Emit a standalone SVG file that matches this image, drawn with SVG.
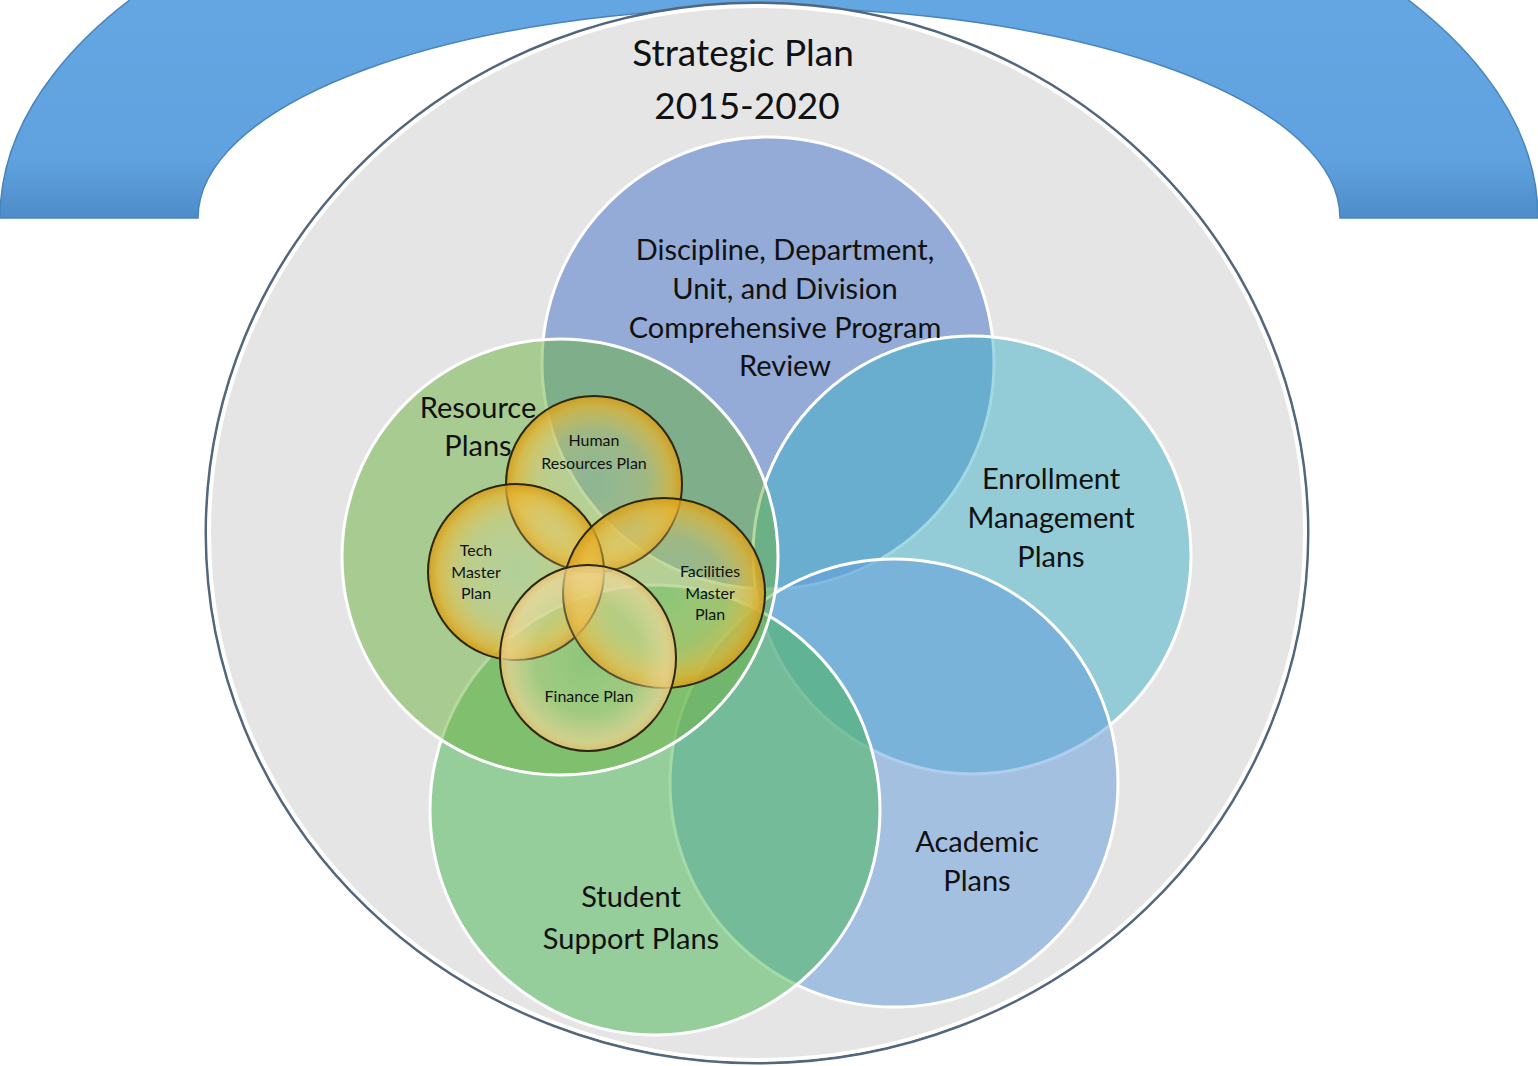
<svg xmlns="http://www.w3.org/2000/svg" width="1538" height="1066" viewBox="0 0 1538 1066">
<defs>
<linearGradient id="arcGrad" x1="0" y1="0" x2="0" y2="1">
<stop offset="0" stop-color="#6aabe6"/>
<stop offset="0.85" stop-color="#5fa2df"/>
<stop offset="1" stop-color="#4d8cc8"/>
</linearGradient>
<radialGradient id="gold" cx="0.5" cy="0.5" r="0.5">
<stop offset="0" stop-color="#fff4cc" stop-opacity="0.1"/>
<stop offset="0.6" stop-color="#f2cf6a" stop-opacity="0.28"/>
<stop offset="0.88" stop-color="#e8b530" stop-opacity="0.7"/>
<stop offset="1" stop-color="#d49c18" stop-opacity="0.9"/>
</radialGradient>
<radialGradient id="cream" cx="0.5" cy="0.5" r="0.5">
<stop offset="0" stop-color="#fff8e0" stop-opacity="0.1"/>
<stop offset="0.6" stop-color="#f5e4b0" stop-opacity="0.28"/>
<stop offset="0.9" stop-color="#efd89a" stop-opacity="0.7"/>
<stop offset="1" stop-color="#e2c070" stop-opacity="0.9"/>
</radialGradient>
<style>
.big{stroke:#ffffff;stroke-width:3;fill-opacity:0.5}
.gc{stroke:#2b2710;stroke-width:2}
.t{font-family:Lato,"Open Sans","Liberation Sans",sans-serif;fill:#111111;text-anchor:middle}
.l{font-size:29px}
.s{font-size:16px}
</style>
</defs>
<rect width="1538" height="1066" fill="#ffffff"/>
<g id="arc">
<path d="M0,218 A769,392 0 0 1 1538,218 L1340,218 A571,210 0 0 0 198,218 Z" fill="url(#arcGrad)" stroke="#4a84bd" stroke-width="1.5"/>
</g>
<g id="strategic-plan">
<ellipse cx="757" cy="533" rx="551" ry="530" fill="none" stroke="#52667c" stroke-width="3"/>
<ellipse cx="757" cy="533" rx="548" ry="527" fill="#e5e5e5" stroke="#ffffff" stroke-width="4"/>
<text class="t" x="743" y="66" font-size="37">Strategic Plan</text>
<text class="t" x="747" y="119" font-size="37">2015-2020</text>
</g>
<g id="discipline">
<circle class="big" cx="768" cy="363" r="226" fill="#4171c7"/>
</g>
<g id="enrollment">
<circle class="big" cx="972" cy="555" r="219" fill="#41b1c7"/>
</g>
<g id="academic">
<circle class="big" cx="894" cy="783" r="224" fill="#619bdb"/>
</g>
<g id="student">
<circle class="big" cx="655" cy="810" r="225" fill="#45b551"/>
</g>
<g id="resource">
<circle class="big" cx="560" cy="557" r="218" fill="#6bb13f"/>
</g>
<g id="labels">
<text class="t l" x="785" y="260">Discipline,  Department,</text>
<text class="t l" x="785" y="299">Unit, and Division</text>
<text class="t l" x="785" y="338">Comprehensive  Program</text>
<text class="t l" x="785" y="376">Review</text>
<text class="t l" x="1051" y="489">Enrollment</text>
<text class="t l" x="1051" y="528">Management</text>
<text class="t l" x="1051" y="567">Plans</text>
<text class="t l" x="977" y="852">Academic</text>
<text class="t l" x="977" y="891">Plans</text>
<text class="t l" x="631" y="907">Student</text>
<text class="t l" x="631" y="949">Support Plans</text>
<text class="t l" x="478" y="418">Resource</text>
<text class="t l" x="478" y="456">Plans</text>
</g>
<g id="human-resources">
<circle class="gc" cx="594" cy="484" r="88" fill="url(#gold)"/>
<text class="t s" x="594" y="446">Human</text>
<text class="t s" x="594" y="469">Resources Plan</text>
</g>
<g id="tech">
<circle class="gc" cx="516" cy="572" r="88" fill="url(#gold)"/>
<text class="t s" x="476" y="556">Tech</text>
<text class="t s" x="476" y="578">Master</text>
<text class="t s" x="476" y="599">Plan</text>
</g>
<g id="facilities">
<ellipse class="gc" cx="664" cy="593" rx="101" ry="95" fill="url(#gold)"/>
<text class="t s" x="710" y="577">Facilities</text>
<text class="t s" x="710" y="599">Master</text>
<text class="t s" x="710" y="620">Plan</text>
</g>
<g id="finance">
<ellipse class="gc" cx="588" cy="658" rx="88" ry="93" fill="url(#cream)"/>
<text class="t s" x="589" y="702">Finance Plan</text>
</g>
<g id="connectors"/>
</svg>
